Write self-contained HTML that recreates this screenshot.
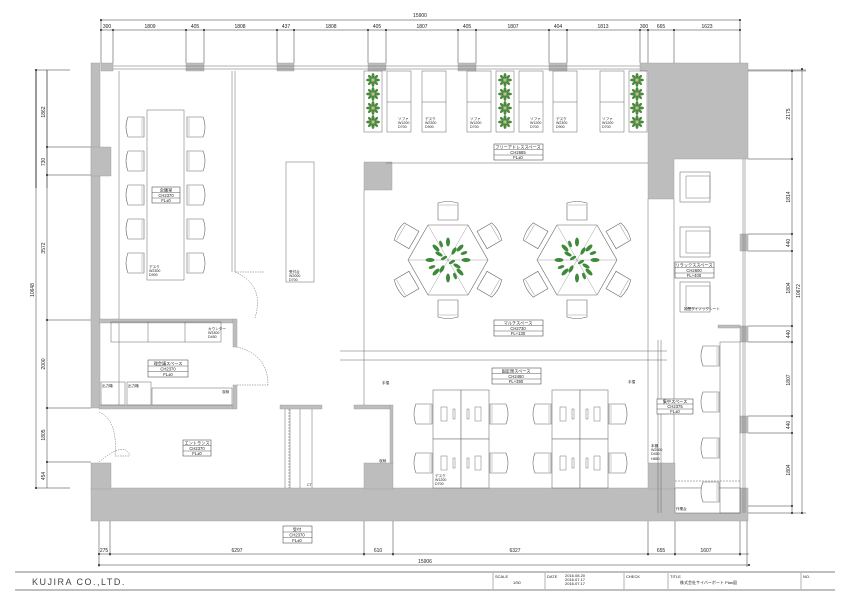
<!DOCTYPE html>
<html><head><meta charset="utf-8"><style>
html,body{margin:0;padding:0;background:#fff;width:849px;height:601px;overflow:hidden}
svg{display:block}
text{font-family:"Liberation Sans","Noto Sans CJK JP",sans-serif;fill:#222}
.t{font-size:5px}
.d{font-size:5px}
</style></head><body>
<svg width="849" height="601" viewBox="0 0 849 601" xmlns="http://www.w3.org/2000/svg">
<defs>
<g id="chD"><path d="M-10 -9 Q0 -12 10 -9 L10 8 L-10 8 Z" fill="#fff" stroke="#666" stroke-width="0.6"/><line x1="-9" y1="-7" x2="9" y2="-7" stroke="#999" stroke-width="0.5"/></g>
<g id="chL"><path d="M-9 -10 L7 -10 Q11 0 7 10 L-9 10 Z" fill="#fff" stroke="#666" stroke-width="0.6"/><line x1="-7" y1="-9" x2="-7" y2="9" stroke="#999" stroke-width="0.5"/></g>
<g id="arm"><rect x="-15" y="-15" width="30" height="30" fill="#fff" stroke="#777" stroke-width="0.6"/><rect x="-9" y="-11" width="24" height="22" fill="none" stroke="#777" stroke-width="0.5"/></g>
<g id="plant"><g fill="#4a8a3a">
<ellipse cx="0" cy="-4" rx="1.5" ry="3"/><ellipse cx="4" cy="0" rx="3" ry="1.5"/><ellipse cx="0" cy="4" rx="1.5" ry="3"/><ellipse cx="-4" cy="0" rx="3" ry="1.5"/>
<ellipse cx="3" cy="-3" rx="1.3" ry="2.5" transform="rotate(45 3 -3)"/><ellipse cx="-3" cy="3" rx="1.3" ry="2.5" transform="rotate(45 -3 3)"/><ellipse cx="3" cy="3" rx="1.3" ry="2.5" transform="rotate(-45 3 3)"/><ellipse cx="-3" cy="-3" rx="1.3" ry="2.5" transform="rotate(-45 -3 -3)"/></g><circle r="1" fill="#d88"/></g>
<g id="bigplant" fill="#3f8a3a">
<ellipse cx="0" cy="-18" rx="2" ry="4.5"/><ellipse cx="12" cy="-12" rx="2" ry="4.5" transform="rotate(45 12 -12)"/><ellipse cx="18" cy="0" rx="4.5" ry="2"/><ellipse cx="12" cy="12" rx="2" ry="4.5" transform="rotate(-45 12 12)"/><ellipse cx="0" cy="18" rx="2" ry="4.5"/><ellipse cx="-12" cy="12" rx="2" ry="4.5" transform="rotate(45 -12 12)"/><ellipse cx="-18" cy="0" rx="4.5" ry="2"/><ellipse cx="-12" cy="-12" rx="2" ry="4.5" transform="rotate(-45 -12 -12)"/>
<ellipse cx="6" cy="-9" rx="1.8" ry="4" transform="rotate(30 6 -9)"/><ellipse cx="9" cy="6" rx="1.8" ry="4" transform="rotate(120 9 6)"/><ellipse cx="-6" cy="9" rx="1.8" ry="4" transform="rotate(30 -6 9)"/><ellipse cx="-9" cy="-6" rx="1.8" ry="4" transform="rotate(120 -9 -6)"/>
<ellipse cx="16" cy="-7" rx="1.6" ry="3.5" transform="rotate(70 16 -7)"/><ellipse cx="-16" cy="7" rx="1.6" ry="3.5" transform="rotate(70 -16 7)"/><ellipse cx="7" cy="16" rx="1.6" ry="3.5" transform="rotate(-20 7 16)"/><ellipse cx="-7" cy="-16" rx="1.6" ry="3.5" transform="rotate(-20 -7 -16)"/>
<ellipse cx="4" cy="2" rx="1.5" ry="3.5" transform="rotate(60 4 2)"/><ellipse cx="-4" cy="-2" rx="1.5" ry="3.5" transform="rotate(60 -4 -2)"/>
</g>
<g id="hex">
<polygon points="-40,0 -20,-35 20,-35 40,0 20,35 -20,35" fill="#fff" stroke="#666" stroke-width="0.6"/>
<path d="M-40 0 L40 0 M-20 -35 L20 35 M20 -35 L-20 35" stroke="#888" stroke-width="0.4"/>
<use href="#bigplant"/>
<use href="#chD" transform="translate(0,-48)"/>
<use href="#chD" transform="translate(0,48) rotate(180)"/>
<use href="#chD" transform="translate(41,-24) rotate(60)"/>
<use href="#chD" transform="translate(41,24) rotate(120)"/>
<use href="#chD" transform="translate(-41,24) rotate(240)"/>
<use href="#chD" transform="translate(-41,-24) rotate(300)"/>
</g>
<g id="desk4">
<rect x="0" y="0" width="28" height="49" fill="#fff" stroke="#777" stroke-width="0.6"/>
<rect x="28" y="0" width="28" height="49" fill="#fff" stroke="#777" stroke-width="0.6"/>
<rect x="0" y="49" width="28" height="49" fill="#fff" stroke="#777" stroke-width="0.6"/>
<rect x="28" y="49" width="28" height="49" fill="#fff" stroke="#777" stroke-width="0.6"/>
<g fill="none" stroke="#777" stroke-width="0.5">
<rect x="8" y="17" width="6" height="14"/><rect x="20" y="19" width="2" height="10"/><rect x="34" y="19" width="2" height="10"/><rect x="42" y="17" width="6" height="14"/>
<rect x="8" y="66" width="6" height="14"/><rect x="20" y="68" width="2" height="10"/><rect x="34" y="68" width="2" height="10"/><rect x="42" y="66" width="6" height="14"/>
</g>
<use href="#chL" transform="translate(-10,24) rotate(180)"/>
<use href="#chL" transform="translate(66,24)"/>
<use href="#chL" transform="translate(-10,73) rotate(180)"/>
<use href="#chL" transform="translate(66,73)"/>
</g>
</defs>

<g stroke="#333" stroke-width="0.5" fill="none">
<!-- top dims -->
<line x1="101" y1="20" x2="740" y2="20"/>
<line x1="101" y1="30" x2="740" y2="30"/>
<path d="M101 20 V63 M113 30 V63 M186 30 V63 M204 30 V63 M277 30 V63 M294 30 V63 M368 30 V63 M386 30 V63 M458 30 V63 M476 30 V63 M549 30 V63 M567 30 V63 M640 30 V63 M648 30 V70 M674 30 V159 M740 20 V159"/>
<!-- left dims -->
<line x1="36" y1="70" x2="36" y2="188"/>
<line x1="47" y1="70" x2="47" y2="188"/>
<line x1="36" y1="188" x2="36" y2="188"/>
<path d="M36 70 V188 M36 188 V188"/>
<line x1="36" y1="70" x2="36" y2="188"/>
<line x1="36" y1="70" x2="36" y2="188"/>
<line x1="36" y1="70" x2="36" y2="188"/>
<path d="M36 70 V488 M47 70 V488 M36 70 H70 M47 147 H91 M47 175 H91 M47 320 H91 M47 408 H91 M47 462 H91 M36 488 H70"/>
<!-- right dims -->
<path d="M792 71 V513 M802 69 V513 M748 70 H806 M748 159 H792 M748 234 H792 M748 251 H792 M748 326 H792 M748 342 H792 M748 416 H792 M748 433 H792 M748 506 H792 M748 513 H806"/>
<!-- bottom dims -->
<path d="M99 554 H749 M99 565 H749 M99 488 V567 M110 521 V556 M364 488 V556 M393 488 V556 M648 488 V556 M675 513 V556 M740 513 V556 M747 521 V567"/>
</g>
<g fill="#222">
<circle cx="101" cy="20" r="1"/><circle cx="740" cy="20" r="1"/>
<circle cx="101" cy="30" r="1"/><circle cx="113" cy="30" r="1"/><circle cx="186" cy="30" r="1"/><circle cx="204" cy="30" r="1"/><circle cx="277" cy="30" r="1"/><circle cx="294" cy="30" r="1"/><circle cx="368" cy="30" r="1"/><circle cx="386" cy="30" r="1"/><circle cx="458" cy="30" r="1"/><circle cx="476" cy="30" r="1"/><circle cx="549" cy="30" r="1"/><circle cx="567" cy="30" r="1"/><circle cx="640" cy="30" r="1"/><circle cx="648" cy="30" r="1"/><circle cx="674" cy="30" r="1"/><circle cx="740" cy="30" r="1"/>
<circle cx="99" cy="554" r="1"/><circle cx="110" cy="554" r="1"/><circle cx="364" cy="554" r="1"/><circle cx="393" cy="554" r="1"/><circle cx="648" cy="554" r="1"/><circle cx="675" cy="554" r="1"/><circle cx="740" cy="554" r="1"/><circle cx="99" cy="565" r="1"/><circle cx="749" cy="565" r="1"/>
<circle cx="36" cy="70" r="1"/><circle cx="36" cy="488" r="1"/><circle cx="47" cy="147" r="1"/><circle cx="47" cy="175" r="1"/><circle cx="47" cy="320" r="1"/><circle cx="47" cy="408" r="1"/><circle cx="47" cy="462" r="1"/>
<circle cx="792" cy="71" r="1"/><circle cx="802" cy="69" r="1"/><circle cx="792" cy="159" r="1"/><circle cx="792" cy="234" r="1"/><circle cx="792" cy="251" r="1"/><circle cx="792" cy="326" r="1"/><circle cx="792" cy="342" r="1"/><circle cx="792" cy="416" r="1"/><circle cx="792" cy="433" r="1"/><circle cx="792" cy="506" r="1"/><circle cx="792" cy="513" r="1"/><circle cx="802" cy="513" r="1"/>
</g>
<g class="d" text-anchor="middle">
<text x="420" y="17">15900</text>
<text x="107" y="28">300</text><text x="150" y="28">1809</text><text x="195" y="28">405</text><text x="240" y="28">1808</text><text x="286" y="28">437</text><text x="331" y="28">1808</text><text x="377" y="28">405</text><text x="422" y="28">1807</text><text x="467" y="28">405</text><text x="513" y="28">1807</text><text x="558" y="28">404</text><text x="603" y="28">1813</text><text x="644" y="28">300</text><text x="661" y="28">665</text><text x="707" y="28">1623</text>
<text x="237" y="552">6297</text><text x="378" y="552">610</text><text x="515" y="552">6327</text><text x="661" y="552">655</text><text x="706" y="552">1607</text><text x="104" y="552">275</text>
<text x="425" y="563">15906</text>
</g>
<g class="d" text-anchor="middle">
<text transform="translate(45,112) rotate(-90)">1862</text>
<text transform="translate(45,162) rotate(-90)">730</text>
<text transform="translate(45,248) rotate(-90)">3572</text>
<text transform="translate(45,364) rotate(-90)">2000</text>
<text transform="translate(45,435) rotate(-90)">1805</text>
<text transform="translate(45,476) rotate(-90)">454</text>
<text transform="translate(34,290) rotate(-90)">10648</text>
<text transform="translate(790,114) rotate(-90)">2175</text>
<text transform="translate(790,197) rotate(-90)">1814</text>
<text transform="translate(790,243) rotate(-90)">440</text>
<text transform="translate(790,288) rotate(-90)">1804</text>
<text transform="translate(790,334) rotate(-90)">440</text>
<text transform="translate(790,380) rotate(-90)">1807</text>
<text transform="translate(790,425) rotate(-90)">440</text>
<text transform="translate(790,470) rotate(-90)">1804</text>
<text transform="translate(800,291) rotate(-90)">10672</text>
</g>

<!-- walls -->
<g fill="#bdbdbd" stroke="#999" stroke-width="0.4">
<rect x="91" y="63" width="9" height="345"/>
<rect x="91" y="147" width="20" height="29"/>
<rect x="101" y="63" width="12" height="8"/>
<rect x="186" y="63" width="18" height="8"/><rect x="277" y="63" width="17" height="8"/><rect x="368" y="63" width="18" height="8"/><rect x="458" y="63" width="18" height="8"/><rect x="549" y="63" width="18" height="8"/>
<path d="M640 63 H748 V159 H674 V199 H648 V71 H640 Z"/>
<rect x="91" y="488" width="657" height="33"/>
<rect x="91" y="463" width="20" height="26"/>
<rect x="364" y="463" width="29" height="26"/>
<rect x="648" y="463" width="27" height="26"/>
<rect x="364" y="162" width="28" height="28"/>
<rect x="740" y="234" width="8" height="17"/><rect x="740" y="326" width="8" height="16"/><rect x="740" y="416" width="8" height="17"/>
<rect x="99" y="319" width="134" height="4"/><rect x="233" y="319" width="4" height="28"/>
<rect x="99" y="405" width="134" height="4"/><rect x="233" y="385" width="4" height="24"/>
<rect x="280" y="405" width="42" height="4"/><rect x="354" y="405" width="36" height="4"/><rect x="390" y="405" width="3" height="58"/>
<rect x="718" y="325" width="22" height="3"/>
</g>
<rect x="675" y="488" width="65" height="25" fill="#fff" stroke="#666" stroke-width="0.5"/>
<g stroke="#666" stroke-width="0.5" fill="none">
<!-- top window -->
<path d="M113 66 H640 M113 69 H640"/>
<!-- right window -->
<path d="M743 159 V513 M745 159 V513"/>
<!-- partitions -->
<path d="M232 71 V272 M235 71 V272"/>
<path d="M119 71 V319 M119 323 V405"/>
<path d="M386 163 H648 M364 190 V405"/>
<path d="M340 351 H667 M340 360 H667 M648 199 V463 M674 199 V463"/>
<path d="M658 340 V513 M661 340 V513"/>
<!-- doors -->
<path d="M235 272 Q265 285 255 318 M235 272 H265" stroke-dasharray="1.5 1"/>
<path d="M237 347 Q268 355 268 385 M237 385 H268" stroke-dasharray="1.5 1"/>
<path d="M99 412 Q118 420 115 456 M115 456 H130 M99 462 Q125 440 130 456" stroke-dasharray="1.5 1"/>
<path d="M285 409 V488 M290 409 V488 M300 409 V488 M312 409 V488" />
<path d="M289 409 V488" stroke-dasharray="2 1"/>
<!-- meeting table -->
<rect x="147" y="110" width="37" height="170"/>
<rect x="111" y="322" width="110" height="20"/><path d="M148 322 V342 M185 322 V342"/>
<rect x="101" y="382" width="24" height="23"/><rect x="127" y="382" width="24" height="23"/><rect x="152" y="388" width="80" height="17"/>
<!-- reception / long counter -->
<rect x="286" y="162" width="28" height="120"/>
<!-- top desks -->
<rect x="364" y="71" width="18" height="61"/>
<rect x="387" y="71" width="24" height="61"/><path d="M387 102 H411"/>
<rect x="422" y="71" width="24" height="61"/><path d="M422 102 H446"/>
<rect x="467" y="71" width="24" height="61"/><path d="M467 102 H491"/>
<rect x="496" y="71" width="18" height="61"/>
<rect x="519" y="71" width="24" height="61"/><path d="M519 102 H543"/>
<rect x="553" y="71" width="24" height="61"/><path d="M553 102 H577"/>
<rect x="600" y="71" width="24" height="61"/><path d="M600 102 H624"/>
<rect x="629" y="71" width="18" height="61"/>
<!-- right counter -->
<rect x="720" y="342" width="20" height="171"/>
<path d="M675 481 H740" stroke-dasharray="2 1"/>
<path d="M748 71 H806"/>
</g>
<!-- plants in planters -->
<use href="#plant" transform="translate(373,80)"/><use href="#plant" transform="translate(373,94)"/><use href="#plant" transform="translate(373,108)"/><use href="#plant" transform="translate(373,122)"/>
<use href="#plant" transform="translate(505,80)"/><use href="#plant" transform="translate(505,94)"/><use href="#plant" transform="translate(505,108)"/><use href="#plant" transform="translate(505,122)"/>
<use href="#plant" transform="translate(637,80)"/><use href="#plant" transform="translate(637,94)"/><use href="#plant" transform="translate(637,108)"/><use href="#plant" transform="translate(637,122)"/>
<!-- meeting chairs -->
<g>
<use href="#chL" transform="translate(135,127) rotate(180)"/><use href="#chL" transform="translate(135,161) rotate(180)"/><use href="#chL" transform="translate(135,195) rotate(180)"/><use href="#chL" transform="translate(135,229) rotate(180)"/><use href="#chL" transform="translate(135,263) rotate(180)"/>
<use href="#chL" transform="translate(196,127)"/><use href="#chL" transform="translate(196,161)"/><use href="#chL" transform="translate(196,195)"/><use href="#chL" transform="translate(196,229)"/><use href="#chL" transform="translate(196,263)"/>
</g>
<use href="#hex" transform="translate(448,260)"/>
<use href="#hex" transform="translate(577,260)"/>
<use href="#desk4" transform="translate(433,390)"/>
<use href="#desk4" transform="translate(552,390)"/>
<use href="#arm" transform="translate(695,187)"/>
<use href="#arm" transform="translate(695,242)"/>
<use href="#arm" transform="translate(695,297)"/>
<use href="#chL" transform="translate(710,356) rotate(180)"/><use href="#chL" transform="translate(710,402) rotate(180)"/><use href="#chL" transform="translate(710,448) rotate(180)"/><use href="#chL" transform="translate(710,492) rotate(180)"/>

<!-- labels -->
<g fill="#fff" stroke="#333" stroke-width="0.5">
<rect x="152" y="187" width="28" height="16"/><rect x="148" y="360" width="40" height="17"/><rect x="183" y="440" width="28" height="16"/><rect x="283" y="526" width="29" height="17"/>
<rect x="494" y="144" width="49" height="16"/><rect x="494" y="320" width="49" height="16"/><rect x="492" y="368" width="49" height="16"/><rect x="675" y="262" width="39" height="16"/><rect x="657" y="399" width="36" height="15"/>
</g>
<g stroke="#333" stroke-width="0.4"><path d="M152 192.5 H180 M152 198 H180 M148 366 H188 M148 371.5 H188 M183 445.5 H211 M183 451 H211 M283 532 H312 M283 537.5 H312 M494 149.5 H543 M494 155 H543 M494 325.5 H543 M494 331 H543 M492 373.5 H541 M492 379 H541 M675 267.5 H714 M675 273 H714 M657 404 H693 M657 409 H693"/></g>
<g class="t" text-anchor="middle" style="font-size:4.2px">
<text x="166" y="191.5">会議室</text><text x="166" y="197">CH2370</text><text x="166" y="202">FL±0</text>
<text x="168" y="365">理会議スペース</text><text x="168" y="370.5">CH2370</text><text x="168" y="376">FL±0</text>
<text x="197" y="444.5">エントランス</text><text x="197" y="450">CH2370</text><text x="197" y="455">FL±0</text>
<text x="297" y="531">受付</text><text x="297" y="536.5">CH2370</text><text x="297" y="542">FL±0</text>
<text x="518" y="148.5">フリーアドレススペース</text><text x="518" y="154">CH2685</text><text x="518" y="159">FL±0</text>
<text x="518" y="324.5">マルチスペース</text><text x="518" y="330">CH2730</text><text x="518" y="335">FL+130</text>
<text x="516" y="372.5">固定席スペース</text><text x="516" y="378">CH2460</text><text x="516" y="383">FL+390</text>
<text x="694" y="266.5">リラックススペース</text><text x="694" y="272">CH2600</text><text x="694" y="277">FL+400</text>
<text x="675" y="403">集中スペース</text><text x="675" y="408">CH2375</text><text x="675" y="413">FL±0</text>
</g>
<g class="t" style="font-size:3.6px">
<text x="149" y="268">デスク</text><text x="149" y="272">W2300</text><text x="149" y="276">D900</text>
<text x="289" y="273">受付台</text><text x="289" y="277">W2000</text><text x="289" y="281">D700</text>
<text x="208" y="330">カウンター</text><text x="208" y="334">W3300</text><text x="208" y="338">D450</text>
<text x="102" y="387">出力機</text><text x="128" y="387">出力機</text><text x="222" y="393">収納</text><text x="379" y="462">収納</text>
<text x="398" y="120">ソファ</text><text x="398" y="124">W1200</text><text x="398" y="128">D700</text>
<text x="425" y="120">デスク</text><text x="425" y="124">W2300</text><text x="425" y="128">D900</text>
<text x="470" y="120">ソファ</text><text x="470" y="124">W1200</text><text x="470" y="128">D700</text>
<text x="530" y="120">ソファ</text><text x="530" y="124">W1200</text><text x="530" y="128">D700</text>
<text x="556" y="120">デスク</text><text x="556" y="124">W2300</text><text x="556" y="128">D900</text>
<text x="602" y="120">ソファ</text><text x="602" y="124">W1200</text><text x="602" y="128">D700</text>
<text x="435" y="477">デスク</text><text x="435" y="481">W1200</text><text x="435" y="485">D700</text>
<text x="651" y="447">本棚</text><text x="651" y="451">W2500</text><text x="651" y="455">D450</text><text x="651" y="460">H850</text>
<text x="676" y="510">作業台</text><text x="307" y="486">CT</text>
<text x="684" y="310">袖壁ダイノックシート</text>
<text x="628" y="383">手摺</text><text x="382" y="384">手摺</text>
</g>

<!-- title block -->
<line x1="15" y1="572" x2="835" y2="572" stroke="#aaa" stroke-width="1.5"/>
<line x1="15" y1="590" x2="835" y2="590" stroke="#aaa" stroke-width="1.5"/>
<g stroke="#666" stroke-width="0.5"><path d="M493 573 V589 M545 573 V589 M624 573 V589 M668 573 V589 M801 573 V589"/></g>
<text x="32" y="585" style="font-size:9px;letter-spacing:1.5px;fill:#444">KUJIRA CO.,LTD.</text>
<g style="font-size:4px">
<text x="495" y="578">SCALE</text><text x="513" y="584">1/50</text>
<text x="547" y="578">DATE</text><text x="565" y="577">2016.08.20</text><text x="565" y="581">2016.07.17</text><text x="565" y="585">2016.07.17</text>
<text x="626" y="578">CHECK</text><text x="670" y="578">TITLE</text><text x="680" y="584">株式会社サイバーボート Plan図</text>
<text x="803" y="578">NO.</text>
</g>
</svg>
</body></html>
